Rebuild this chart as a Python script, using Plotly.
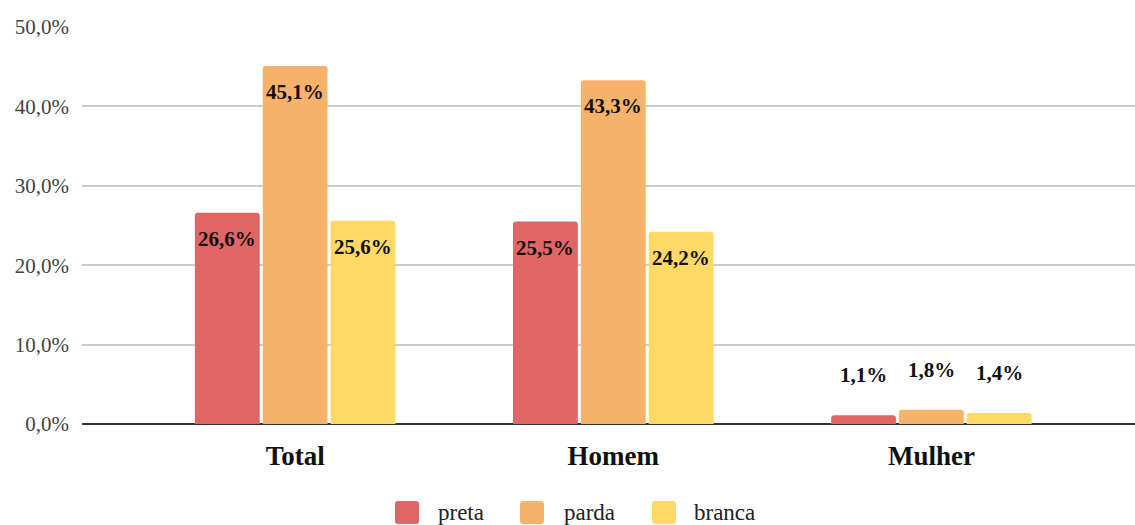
import plotly.graph_objects as go

categories = ["Total", "Homem", "Mulher"]
preta = [0.266, 0.255, 0.011]
parda = [0.451, 0.433, 0.018]
branca = [0.256, 0.242, 0.014]

series = [("preta", preta, "#E06666"), ("parda", parda, "#F6B26B"), ("branca", branca, "#FFD966")]

FONT = "Liberation Serif"
SMALL = 0.05        # values below this get their label placed above the bar
BAR_SLOT = 0.2133   # horizontal offset of each bar within its group

fig = go.Figure()
for k, (name, vals, color) in enumerate(series):
    fig.add_trace(go.Bar(
        name=name, x=categories, y=vals, marker_color=color,
        marker_line_width=0, hoverinfo="skip", showlegend=False,
    ))
    # value labels: inside near the top for tall bars, above for short ones
    for i, v in enumerate(vals):
        fig.add_annotation(
            x=i + (k - 1) * BAR_SLOT, y=v, xref="x", yref="y",
            text="<b>" + f"{v*100:.1f}%".replace(".", ",") + "</b>",
            showarrow=False, yanchor="middle",
            yshift=40 if v < SMALL else -26,
            font=dict(family=FONT, size=21, color="#111111"),
        )


def rounded_square(x0, y0, x1, y1, r):
    """SVG path (pixel space of the page) converted to paper coords."""
    def px(x):
        return (x - 82) / 1053

    def py(y):
        return (424 - y) / 397
    pts = [
        f"M {px(x0 + r)} {py(y0)}",
        f"L {px(x1 - r)} {py(y0)}",
        f"Q {px(x1)} {py(y0)} {px(x1)} {py(y0 + r)}",
        f"L {px(x1)} {py(y1 - r)}",
        f"Q {px(x1)} {py(y1)} {px(x1 - r)} {py(y1)}",
        f"L {px(x0 + r)} {py(y1)}",
        f"Q {px(x0)} {py(y1)} {px(x0)} {py(y1 - r)}",
        f"L {px(x0)} {py(y0 + r)}",
        f"Q {px(x0)} {py(y0)} {px(x0 + r)} {py(y0)}",
        "Z",
    ]
    return " ".join(pts)


# legend drawn as rounded swatches with labels underneath the chart
legend_items = [("preta", 395, 436), ("parda", 520, 562), ("branca", 652, 692)]
colors = {n: c for n, _, c in series}
for name, sx, tx in legend_items:
    fig.add_shape(
        type="path", xref="paper", yref="paper",
        path=rounded_square(sx, 501, sx + 24, 524, 3),
        fillcolor=colors[name], line=dict(width=0), layer="above",
    )
    fig.add_annotation(
        xref="paper", yref="paper",
        x=(tx - 82) / 1053, y=(424 - 512) / 397,
        xanchor="left", yanchor="middle", showarrow=False,
        text=name, font=dict(family=FONT, size=23, color="#222222"),
    )

fig.update_layout(
    width=1135, height=525,
    margin=dict(l=82, r=0, t=27, b=101),
    paper_bgcolor="white", plot_bgcolor="white",
    separators=",.",
    barmode="group", bargap=0.36, bargroupgap=0.045,
    barcornerradius=3,
    font=dict(family=FONT, color="#333333"),
    showlegend=False,
)
fig.update_xaxes(
    range=[-0.67, 2.64], automargin=False,
    tickfont=dict(family=FONT, size=27, color="#111111", weight="bold"),
    showgrid=False, ticks="", showline=False, ticklabelstandoff=13,
)
fig.update_yaxes(
    range=[0, 0.5], dtick=0.1, tickformat=".1%", automargin=False,
    tickfont=dict(family=FONT, size=21, color="#444444"),
    gridcolor="#cccccc", gridwidth=1.5,
    zeroline=True, zerolinecolor="#333333", zerolinewidth=2,
    ticks="", ticklabelstandoff=12,
)

fig.write_html("out.html")
